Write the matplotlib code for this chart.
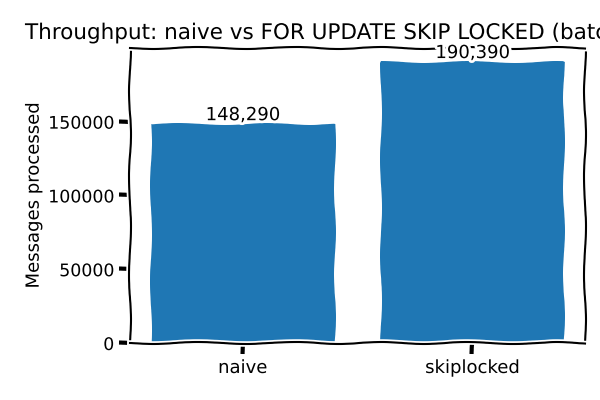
import matplotlib
matplotlib.use("Agg")
import matplotlib.pyplot as plt
from matplotlib.ticker import MultipleLocator

categories = ["naive", "skiplocked"]
values = [148290, 190390]
title = "Throughput: naive vs FOR UPDATE SKIP LOCKED (batch)"
ylabel = "Messages processed"

with plt.xkcd():
    plt.rcParams['font.family'] = ['DejaVu Sans']
    fig, ax = plt.subplots(figsize=(6, 4), dpi=100)
    bars = ax.bar(categories, values, color="#1f77b4")
    ax.bar_label(bars, labels=[f"{v:,}" for v in values], fontsize=13)
    ax.set_ylabel(ylabel, fontsize=13)
    ax.yaxis.set_major_locator(MultipleLocator(50000))
    ax.tick_params(axis='y', labelsize=12.5)
    ax.tick_params(axis='x', labelsize=13)
    fig.text(25 / 600, 1 - 33 / 400, title, fontsize=15.5, ha='left', va='center')
    fig.subplots_adjust(left=0.217, right=0.975, top=0.88, bottom=0.1425)
    fig.savefig("out.png", dpi=100)
